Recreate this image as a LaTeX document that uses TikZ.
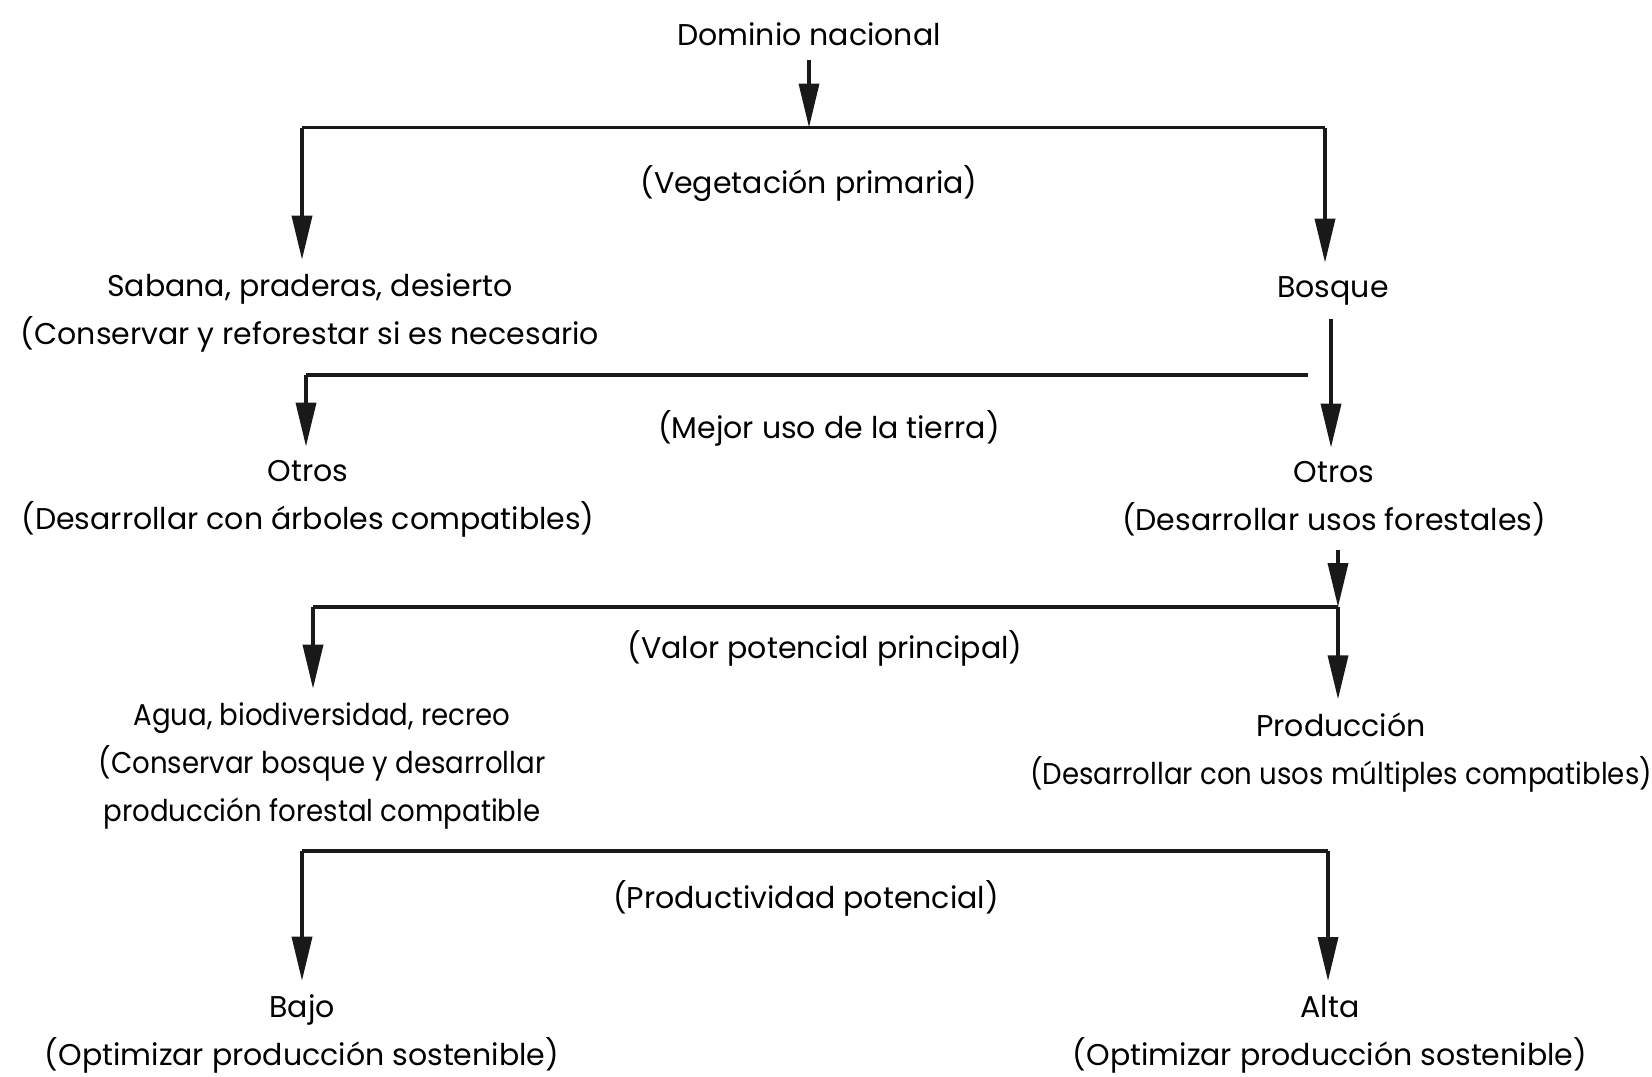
\documentclass[tikz,border=0pt]{standalone}
\usepackage{fontspec}
\usepackage{graphicx}
\setmainfont{Poppins}
\usetikzlibrary{arrows.meta}

\newcommand{\narrow}[1]{\scalebox{0.92}[1]{#1}}

\tikzset{
  lbl/.style={inner sep=0pt, outer sep=7pt, align=center,
    font=\fontsize{15}{24}\selectfont},
  conn/.style={line width=1.8pt, draw=black!90},
  arr/.style={conn, -{Triangle[length=22pt,width=10pt]}},
}

\begin{document}
\begin{tikzpicture}[x=0.5pt, y=-0.5pt]
\useasboundingbox (0,0) rectangle (1652,1076);

% text nodes
\node[lbl] (dom)  at (809,34)   {Dominio nacional};
\node[lbl] (veg)  at (809,184)  {(Vegetación primaria)};
\node[lbl] (sab)  at (310,313)  {Sabana, praderas, desierto\\(Conservar y reforestar si es necesario};
\node[lbl] (bos)  at (1333,291) {Bosque};
\node[lbl] (mej)  at (829,428)  {(Mejor uso de la tierra)};
\node[lbl] (otl)  at (308,499)  {Otros\\(Desarrollar con árboles compatibles)};
\node[lbl] (otr)  at (1334,499) {Otros\\(Desarrollar usos forestales)};
\node[lbl] (val)  at (825,648)  {(Valor potencial principal)};
\node[lbl] (agua) at (322,766)  {\narrow{Agua, biodiversidad, recreo}\\\narrow{(Conservar bosque y desarrollar}\\\narrow{producción forestal compatible}};
\node[lbl] (prod) at (1341,753) {Producción\\\narrow{(Desarrollar con usos múltiples compatibles)}};
\node[lbl] (ppot) at (806,898)  {(Productividad potencial)};
\node[lbl] (bajo) at (302,1034) {Bajo\\(Optimizar producción sostenible)};
\node[lbl] (alta) at (1330,1034){Alta\\(Optimizar producción sostenible)};

% branch bars
\coordinate (b1l) at (302,127.5);
\coordinate (b1r) at (1325,127.5);
\coordinate (b1m) at (809,127.5);
\coordinate (b2l) at (306,375);
\coordinate (b2r) at (1308,375);
\coordinate (b3l) at (313,607);
\coordinate (b3r) at (1338,607);
\coordinate (b4l) at (302,851);
\coordinate (b4r) at (1328,851);

% level 1
\draw[arr] (dom) -- (b1m);
\draw[conn] (b1l) -- (b1r);
\draw[arr] (b1l) -- (b1l |- sab.north);
\draw[arr] (b1r) -- (b1r |- bos.north);

% level 2
\draw[arr] (bos.south -| 1331,0) -- (otr.north -| 1331,0);
\draw[conn] (b2r) -- (b2l);
\draw[arr] (b2l) -- (b2l |- otl.north);

% level 3
\draw[arr] (otr.south -| b3r) -- (b3r);
\draw[conn] (b3r) -- (b3l);
\draw[arr] (b3l) -- (b3l |- agua.north);
\draw[arr] (b3r) -- (b3r |- prod.north);

% level 4
\draw[conn] (b4l) -- (b4r);
\draw[arr] (b4l) -- (b4l |- bajo.north);
\draw[arr] (b4r) -- (b4r |- alta.north);
\end{tikzpicture}
\end{document}
